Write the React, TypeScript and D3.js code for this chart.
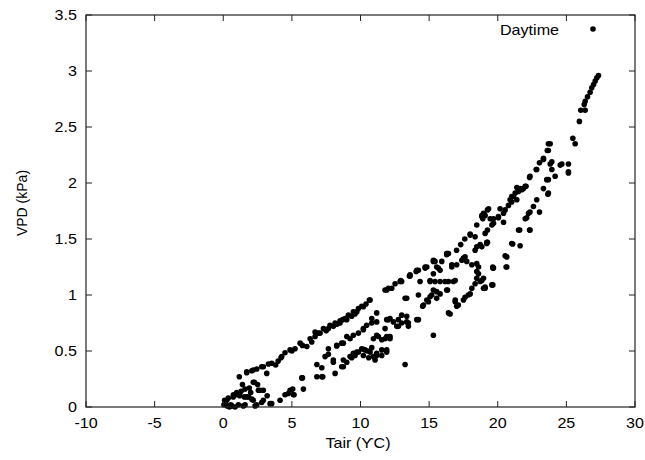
import React from "react";
import * as d3 from "d3";

const xTicks = [-10, -5, 0, 5, 10, 15, 20, 25, 30];
const yTicks = [0, 0.5, 1, 1.5, 2, 2.5, 3, 3.5];
const yTickLabels = ["0", "0.5", "1", "1.5", "2", "2.5", "3", "3.5"];
const xLabel = "Tair (ϒC)";
const yLabel = "VPD (kPa)";
const seriesName = "Daytime";

// Daytime points [Tair, VPD]
const nearZero: [number, number][] = [
  [0.05,0.02],[0.1,0.06],[0.25,0.06],[0.3,0.01],[0.37,0.08],[0.45,0.0],[0.55,0.02],[0.62,0.01],[0.73,0.09],[0.74,0.11],
  [0.86,0.0],[0.98,0.11],[0.98,0.13],[1.1,0.02],[1.2,0.1],[1.3,0.14],[1.46,0.01],[1.54,0.09],[1.59,0.16],[1.59,0.02],
  [1.71,0.09],[1.83,0.09],[1.9,0.17],[2.08,0.07],[2.19,0.22],[2.19,0.06],[2.27,0.22],[2.32,0.01],[2.44,0.02],[2.56,0.15],
  [2.68,0.15],[2.8,0.04],[2.92,0.15],[2.92,0.06],[3.41,0.03],[3.53,0.03],[1.4,0.2],[2.0,0.13],[2.5,0.2],[3.2,0.1],
];
const lowBand: [number, number][] = [
  [4.14,0.06],[4.5,0.11],[4.74,0.12],[4.87,0.15],[5.06,0.16],[5.11,0.11],[5.16,0.11],[5.72,0.26],[5.84,0.16],[5.77,0.26],
  [6.82,0.27],[7.18,0.27],[7.25,0.27],[6.82,0.38],[7.18,0.35],[7.42,0.45],[7.66,0.47],[8.02,0.4],[8.02,0.42],[8.15,0.3],
  [8.63,0.36],[8.75,0.36],[8.75,0.42],[9.0,0.4],[9.24,0.45],[9.36,0.44],[9.48,0.48],[9.73,0.49],[9.85,0.49],[10.09,0.52],
  [10.21,0.46],[10.21,0.515],[10.33,0.51],[10.5,0.5],[10.7,0.49],[10.82,0.53],[10.94,0.45],[11.06,0.42],[11.18,0.46],[11.18,0.48],
  [11.55,0.46],[11.55,0.51],[11.91,0.49],[11.91,0.51],[13.25,0.38],[10.6,0.44],[9.6,0.46],
];
const midBand: [number, number][] = [
  [7.66,0.52],[8.27,0.545],[8.27,0.55],[8.63,0.57],[8.75,0.57],[9.0,0.63],[9.24,0.61],[9.48,0.64],[9.85,0.66],[10.21,0.69],
  [10.21,0.7],[10.45,0.73],[10.82,0.75],[10.82,0.79],[11.18,0.76],[11.18,0.84],[11.3,0.63],[11.55,0.6],[11.18,0.64],[10.94,0.61],
  [11.79,0.7],[11.79,0.61],[11.91,0.63],[11.91,0.78],[12.03,0.78],[12.15,0.79],[12.15,0.61],[12.15,0.63],[12.4,0.76],[12.64,0.72],
  [12.76,0.72],[12.76,0.78],[13.0,0.75],[13.0,0.82],[13.37,0.76],[13.37,0.81],[13.49,0.72],[13.49,0.75],[14.1,0.78],[14.22,0.78],
  [15.31,0.64],[16.41,0.84],[16.53,0.83],
];
const upperMid: [number, number][] = [
  [13.25,0.97],[13.37,0.97],[14.22,1.0],[14.53,0.9],[14.59,0.91],[14.83,0.955],[14.95,0.94],[15.07,0.985],[15.19,1.0],[15.31,1.045],
  [15.55,0.97],[15.55,1.03],[15.8,1.01],[16.28,1.045],[16.34,1.045],[16.9,0.94],[17.01,0.9],[16.9,0.955],[17.13,0.91],[17.5,0.955],
  [17.62,0.98],[17.86,1.0],[17.99,1.01],[18.11,1.06],[18.47,1.15],[18.84,1.13],[19.08,1.06],[18.96,1.06],[19.57,1.09],[19.64,1.09],
  [18.96,1.15],[19.08,1.07],[18.35,1.1],[18.72,1.12],[16.16,1.12],[16.41,1.12],[16.77,1.12],[16.9,1.13],[15.07,1.12],[15.07,1.13],
  [15.43,1.12],[15.8,1.12],[14.34,1.12],[15.31,1.19],[15.67,1.24],[15.8,1.22],[15.55,1.25],[16.65,1.25],[17.01,1.27],[16.65,1.27],
  [17.38,1.31],[17.5,1.33],[17.62,1.34],[17.74,1.3],[18.11,1.27],[18.47,1.28],[18.47,1.21],[18.6,1.25],[18.6,1.19],[19.64,1.24],
  [19.64,1.25],[19.69,1.24],[20.61,1.25],[20.66,1.25],[20.54,1.35],[20.66,1.34],[21.02,1.46],[21.09,1.455],[21.63,1.44],[21.6,1.58],
  [21.51,1.58],[22.32,1.58],[22.35,1.58],
];
const upperBand: [number, number][] = [
  [1.17,0.27],[1.71,0.306],[1.71,0.315],[2.08,0.324],[2.19,0.33],[2.44,0.339],[2.8,0.36],[2.92,0.36],[3.17,0.3],[3.29,0.384],
  [3.53,0.39],[3.82,0.375],[4.0,0.41],[4.21,0.44],[4.26,0.45],[4.5,0.485],[4.87,0.51],[5.0,0.5],[5.23,0.52],[5.6,0.57],
  [5.77,0.55],[6.09,0.54],[6.33,0.61],[6.45,0.58],[6.69,0.63],[6.69,0.67],[6.93,0.66],[7.06,0.66],[7.3,0.7],[7.5,0.68],
  [7.66,0.7],[7.78,0.73],[8.02,0.72],[8.15,0.75],[8.3,0.74],[8.51,0.75],[8.51,0.77],[8.7,0.78],[8.88,0.79],[9.0,0.78],
  [9.12,0.82],[9.36,0.81],[9.48,0.85],[9.6,0.83],[9.73,0.85],[9.85,0.88],[10.09,0.9],[10.21,0.895],[10.4,0.92],[10.65,0.955],
  [10.7,0.955],[11.79,1.045],[11.91,1.045],[12.03,1.06],[12.28,1.06],[12.52,1.1],[12.89,1.12],[12.93,1.13],[13.0,1.12],[13.56,1.17],
  [13.61,1.18],[13.61,1.17],[14.05,1.21],[14.1,1.22],[14.22,1.22],[14.71,1.24],[14.71,1.25],[14.83,1.25],[15.31,1.3],[15.31,1.31],
  [15.43,1.3],[15.92,1.3],[16.28,1.36],[16.28,1.37],[16.34,1.37],[16.41,1.37],
];
const steepBranch: [number, number][] = [
  [17.0,1.4],[17.3,1.45],[17.6,1.5],[17.99,1.535],[17.99,1.545],[18.35,1.4],[18.35,1.52],[18.47,1.43],[18.47,1.625],[18.72,1.45],
  [18.84,1.43],[18.84,1.71],[18.84,1.7],[18.91,1.68],[18.96,1.73],[19.08,1.55],[19.08,1.71],[19.2,1.46],[19.2,1.47],[19.25,1.47],
  [19.25,1.58],[19.25,1.76],[19.33,1.77],[19.45,1.68],[19.57,1.625],[19.69,1.64],[19.69,1.68],[20.05,1.69],[20.05,1.7],[20.17,1.77],
  [20.42,1.65],[20.42,1.73],[20.54,1.76],[20.78,1.8],[20.9,1.85],[21.02,1.83],[21.02,1.88],[21.15,1.88],[21.27,1.91],[21.39,1.85],
  [21.39,1.96],[21.51,1.925],[21.51,1.95],[21.63,1.95],[21.75,1.94],[21.87,1.95],[22.0,1.97],[22.06,1.97],[22.32,2.05],[22.35,2.06],
  [22.8,2.12],[22.84,2.12],[23.04,2.18],[23.33,2.21],[23.33,2.22],[23.61,2.29],[23.69,2.29],[23.69,2.35],[23.82,2.35],
];
const rightBranch: [number, number][] = [
  [22.0,1.68],[22.11,1.69],[22.24,1.73],[22.35,1.74],[22.6,1.79],[22.84,1.85],[23.04,1.74],[23.33,1.95],[23.57,2.03],[23.65,1.9],
  [23.69,1.91],[23.69,2.03],[23.82,2.17],[23.94,2.12],[23.94,2.19],[24.18,2.06],[24.55,2.16],[24.67,2.17],[25.15,2.17],[25.15,2.09],
  [25.15,2.1],[25.47,2.4],[25.64,2.35],[25.95,2.55],
];
const topBranch: [number, number][] = [
  [26.05,2.65],[26.3,2.7],[26.37,2.65],[26.37,2.73],[26.54,2.77],[26.73,2.81],[26.85,2.85],[26.98,2.88],[27.1,2.91],[27.22,2.94],[27.34,2.96],
];

const points = [...nearZero, ...lowBand, ...midBand, ...upperMid, ...upperBand, ...steepBranch, ...rightBranch, ...topBranch];

const W = 645, H = 460;
const L = 86, R = 635, T = 15, B = 407;
const FONT = "'Liberation Sans', Arial, sans-serif";
const SX = 1.15;
const AX = "#222";

export default function App() {
  const x = d3.scaleLinear().domain([-10, 30]).range([L, R]);
  const y = d3.scaleLinear().domain([0, 3.5]).range([B, T]);
  const tl = 6;
  return (
    <div style={{ position: "fixed", left: 0, top: 0 }}>
      <svg width={W} height={H} style={{ display: "block", background: "#fff" }}>
        {points.map((p, i) => (
          <circle key={i} cx={x(p[0])} cy={y(p[1])} r={2.8} fill="#000" />
        ))}
        <rect x={L} y={T} width={R - L} height={B - T} fill="none" stroke={AX} strokeWidth={1.2} />
        {xTicks.map((t, i) => (
          <g key={"xt" + i}>
            <line x1={x(t)} x2={x(t)} y1={B} y2={B - tl} stroke={AX} strokeWidth={1} />
            <line x1={x(t)} x2={x(t)} y1={T} y2={T + tl} stroke={AX} strokeWidth={1} />
            <text transform={`translate(${x(t)},428) scale(${SX},1)`} textAnchor="middle"
              fontFamily={FONT} fontSize={14} fill="#000">{String(t)}</text>
          </g>
        ))}
        {yTicks.map((t, i) => (
          <g key={"yt" + i}>
            <line x1={L} x2={L + tl} y1={y(t)} y2={y(t)} stroke={AX} strokeWidth={1} />
            <line x1={R} x2={R - tl} y1={y(t)} y2={y(t)} stroke={AX} strokeWidth={1} />
            <text transform={`translate(77,${y(t) + 5}) scale(${SX},1)`} textAnchor="end"
              fontFamily={FONT} fontSize={14} fill="#000">{yTickLabels[i]}</text>
          </g>
        ))}
        <text transform={`translate(358,448) scale(${SX},1)`} textAnchor="middle"
          fontFamily={FONT} fontSize={14} fill="#000">{xLabel}</text>
        <text transform={`translate(27,203) rotate(-90)`} textAnchor="middle"
          fontFamily={FONT} fontSize={14} fill="#000">{yLabel}</text>
        <text transform={`translate(559,35) scale(${SX},1)`} textAnchor="end"
          fontFamily={FONT} fontSize={14} fill="#000">{seriesName}</text>
        <circle cx={593} cy={29} r={2.8} fill="#000" />
      </svg>
    </div>
  );
}
